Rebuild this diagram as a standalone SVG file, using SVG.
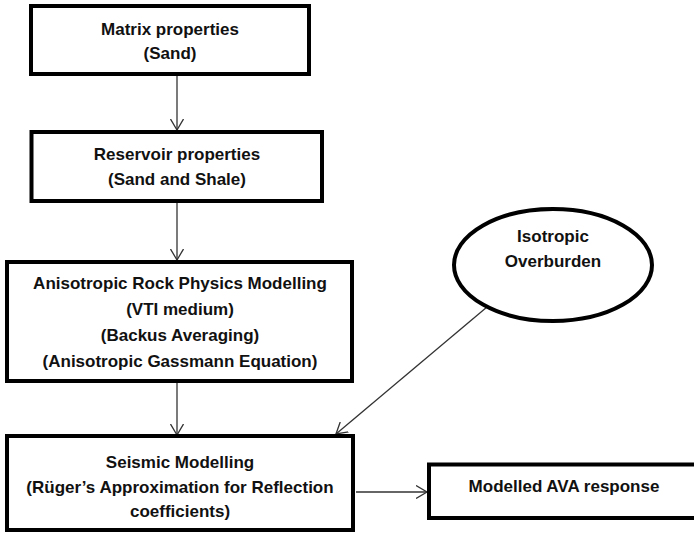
<svg xmlns="http://www.w3.org/2000/svg" width="694" height="534" viewBox="0 0 694 534">
<style>
.box{fill:#fff;stroke:#000;stroke-width:4}
.t{font-family:"Liberation Sans",Arial,sans-serif;font-weight:bold;font-size:17px;fill:#111;text-anchor:middle}
.c{stroke:#333;stroke-width:1.3;fill:none}
</style>
<defs>
<marker id="ah" markerUnits="userSpaceOnUse" markerWidth="14" markerHeight="14" refX="11" refY="7" orient="auto" viewBox="0 0 14 14">
<path d="M0,0.5 L11,7 L0,13.5" fill="none" stroke="#333" stroke-width="1.3"/>
</marker>
</defs>
<rect width="694" height="534" fill="#fff"/>
<g id="connectors">
<line class="c" x1="177" y1="76" x2="177" y2="130" marker-end="url(#ah)"/>
<line class="c" x1="177" y1="203" x2="177" y2="260" marker-end="url(#ah)"/>
<line class="c" x1="177" y1="383" x2="177" y2="435" marker-end="url(#ah)"/>
<line class="c" x1="487" y1="307" x2="336" y2="434" marker-end="url(#ah)" stroke="#555"/>
<line class="c" x1="356" y1="492" x2="427" y2="492" marker-end="url(#ah)"/>
</g>
<g id="matrix">
<rect class="box" x="31" y="6" width="278" height="68"/>
<text class="t" x="170" y="35">Matrix properties</text>
<text class="t" x="170" y="59">(Sand)</text>
</g>
<g id="reservoir">
<rect class="box" x="31.5" y="132" width="290.5" height="69"/>
<text class="t" x="177" y="160">Reservoir properties</text>
<text class="t" x="177" y="185">(Sand and Shale)</text>
</g>
<g id="rockphysics">
<rect class="box" x="7" y="262" width="345" height="119"/>
<text class="t" x="180" y="289">Anisotropic Rock Physics Modelling</text>
<text class="t" x="180" y="315">(VTI medium)</text>
<text class="t" x="180" y="341">(Backus Averaging)</text>
<text class="t" x="180" y="367">(Anisotropic Gassmann Equation)</text>
</g>
<g id="overburden">
<ellipse class="box" cx="553" cy="265" rx="99" ry="56"/>
<text class="t" x="553" y="242">Isotropic</text>
<text class="t" x="553" y="267">Overburden</text>
</g>
<g id="seismic">
<rect class="box" x="7" y="436" width="346" height="94"/>
<text class="t" x="180" y="468">Seismic Modelling</text>
<text class="t" x="180" y="493">(Rüger’s Approximation for Reflection</text>
<text class="t" x="180" y="517">coefficients)</text>
</g>
<g id="ava">
<rect class="box" x="429" y="464.5" width="280" height="53.5"/>
<text class="t" x="564" y="492">Modelled AVA response</text>
</g>
</svg>
